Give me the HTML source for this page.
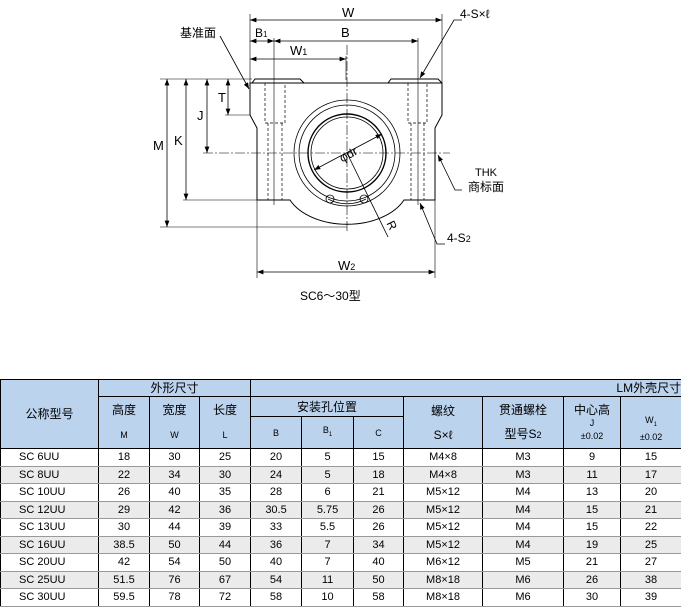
<!DOCTYPE html>
<html><head><meta charset="utf-8"><style>
body{margin:0;width:681px;height:606px;background:#fff;position:relative;overflow:hidden;font-family:"Liberation Sans","Noto Sans CJK SC",sans-serif}
svg{position:absolute;left:0;top:0}
table{position:absolute;left:0;top:379px;border-collapse:collapse;table-layout:fixed;width:681px;font-size:11px;font-family:"Liberation Sans","Noto Sans CJK SC",sans-serif}
td{border:1px solid #000;text-align:center;padding:0;line-height:12px;overflow:hidden;white-space:nowrap}
.h td{background:#bcd3ee}
tr.d td{height:16.5px;border-top:1px solid #999;border-bottom:1px solid #999}
tr.g td{background:#ebebeb}
td.l{text-align:left;padding-left:18px}
.s{font-size:9px}
</style></head><body>
<svg width="681" height="380" viewBox="0 0 681 380" font-family="Liberation Sans, Noto Sans CJK SC, sans-serif" font-size="12">
<defs><marker id="a" markerWidth="8" markerHeight="6" refX="8" refY="3" orient="auto-start-reverse"><path d="M0,0 L8,3 L0,6 z" fill="#000"/></marker></defs>
<g stroke="#000" stroke-width="0.8" fill="none">
<!-- body -->
<path d="M250,83 L250,115 L257,128 L257,200 L290,200 A62,40 0 0 0 404,200 L435,200 L435,128 L442,115 L442,83 Z" stroke-width="1"/>
<path d="M252,83 L255,79 L300,79 L304,83 M388,83 L391,79 L438,79 L442,83" stroke-width="1"/>
<circle cx="347" cy="153" r="53"/><circle cx="347" cy="153" r="48"/>
<circle cx="347" cy="153" r="39" stroke-width="1.4"/><circle cx="347" cy="153" r="36"/>
<path d="M328,199 A40,40 0 0 0 366,199"/>
<circle cx="330" cy="199" r="4"/><circle cx="364" cy="199" r="4"/>
<g stroke-dasharray="3,2" stroke-width="0.7">
<path d="M265,83 V123 H285 V83 M268,123 V200 M282,123 V200"/>
<path d="M408,83 V123 H427 V83 M411,123 V200 M424,123 V200"/>
</g>
<g stroke-dasharray="10,2,2,2" stroke-width="0.6">
<path d="M347,45 V232 M203,153 H450"/>
</g>
<path d="M274,38 V205 M418,38 V205" stroke-width="0.6"/>
<!-- extension lines -->
<path d="M250,14 V83 M442,14 V83 M346,56 V80 M160,79 H252 M160,227 H347 M183,200 H257 M225,115 H250 M257,200 V278 M435,200 V278" stroke-width="0.6"/>
<!-- dims -->
<path d="M250,20 H442" marker-start="url(#a)" marker-end="url(#a)"/>
<path d="M250,41 H274" marker-start="url(#a)" marker-end="url(#a)"/>
<path d="M274,41 H418" marker-start="url(#a)" marker-end="url(#a)"/>
<path d="M250,59 H346" marker-start="url(#a)" marker-end="url(#a)"/>
<path d="M167,79 V227" marker-start="url(#a)" marker-end="url(#a)"/>
<path d="M186,79 V200" marker-start="url(#a)" marker-end="url(#a)"/>
<path d="M207,79 V153" marker-start="url(#a)" marker-end="url(#a)"/>
<path d="M228,79 V115" marker-start="url(#a)" marker-end="url(#a)"/>
<path d="M257,272 H435" marker-start="url(#a)" marker-end="url(#a)"/>
<path d="M314,170 L382,134" marker-start="url(#a)" marker-end="url(#a)"/>
<path d="M347,153 L388,237"/>
<!-- leaders -->
<path d="M220,36 L249,89" marker-end="url(#a)"/>
<path d="M462,20 L454,20 L420,78" marker-end="url(#a)"/>
<path d="M462,190 L455,190 L438,155" marker-end="url(#a)"/>
<path d="M445,244 L437,244 L420,203" marker-end="url(#a)"/>
</g>
<g fill="#000">
<text x="342" y="17" font-size="13">W</text>
<text x="180" y="37">基准面</text>
<text x="255" y="37">B<tspan font-size="8">1</tspan></text>
<text x="341" y="37" font-size="13">B</text>
<text x="290" y="55" font-size="13">W<tspan font-size="9">1</tspan></text>
<text x="460" y="18">4-S×ℓ</text>
<text x="153" y="150" font-size="13">M</text>
<text x="174" y="145" font-size="13">K</text>
<text x="197" y="120" font-size="13">J</text>
<text x="218" y="102" font-size="13">T</text>
<text x="475" y="176" font-size="11">THK</text>
<text x="468" y="191">商标面</text>
<text x="447" y="242">4-S<tspan font-size="9">2</tspan></text>
<text x="338" y="270" font-size="13">W<tspan font-size="9">2</tspan></text>
<text x="338" y="160" transform="rotate(-28 345 153)" font-size="12">φdr</text>
<text x="387" y="230" transform="rotate(64 392 226)" font-size="12">R</text>
<text x="300" y="300" font-size="12">SC6～30型</text>
</g>
</svg>
<table>
<colgroup><col style="width:98px"><col style="width:51px"><col style="width:50px"><col style="width:51px"><col style="width:51px"><col style="width:52px"><col style="width:50px"><col style="width:79px"><col style="width:81px"><col style="width:57px"><col style="width:61px"></colgroup>
<tr class="h" style="height:17px"><td rowspan="3" style="font-size:12px">公称型号</td><td colspan="3" style="font-size:12px">外形尺寸</td><td colspan="7" style="text-align:right;font-size:12px">LM外壳尺寸</td></tr>
<tr class="h" style="height:20px"><td rowspan="2" style="font-size:12px">高度<br><br><span class="s">M</span></td><td rowspan="2" style="font-size:12px">宽度<br><br><span class="s">W</span></td><td rowspan="2" style="font-size:12px">长度<br><br><span class="s">L</span></td><td colspan="3" style="font-size:12px">安装孔位置</td><td rowspan="2" style="font-size:12px">螺纹<br><br>S×ℓ</td><td rowspan="2" style="font-size:12px">贯通螺栓<br><br>型号S<span class="s">2</span></td><td rowspan="2" style="font-size:12px;line-height:12px">中心高<br><span class="s">J<br>±0.02</span></td><td rowspan="2" class="s"><br>W<sub style="font-size:6px">1</sub><br>±0.02</td></tr>
<tr class="h" style="height:32px"><td class="s">B</td><td class="s">B<sub style="font-size:6px">1</sub></td><td class="s">C</td></tr>
<tr class="d"><td class="l">SC 6UU</td><td>18</td><td>30</td><td>25</td><td>20</td><td>5</td><td>15</td><td>M4×8</td><td>M3</td><td>9</td><td>15</td></tr>
<tr class="d g"><td class="l">SC 8UU</td><td>22</td><td>34</td><td>30</td><td>24</td><td>5</td><td>18</td><td>M4×8</td><td>M3</td><td>11</td><td>17</td></tr>
<tr class="d"><td class="l">SC 10UU</td><td>26</td><td>40</td><td>35</td><td>28</td><td>6</td><td>21</td><td>M5×12</td><td>M4</td><td>13</td><td>20</td></tr>
<tr class="d g"><td class="l">SC 12UU</td><td>29</td><td>42</td><td>36</td><td>30.5</td><td>5.75</td><td>26</td><td>M5×12</td><td>M4</td><td>15</td><td>21</td></tr>
<tr class="d"><td class="l">SC 13UU</td><td>30</td><td>44</td><td>39</td><td>33</td><td>5.5</td><td>26</td><td>M5×12</td><td>M4</td><td>15</td><td>22</td></tr>
<tr class="d g"><td class="l">SC 16UU</td><td>38.5</td><td>50</td><td>44</td><td>36</td><td>7</td><td>34</td><td>M5×12</td><td>M4</td><td>19</td><td>25</td></tr>
<tr class="d"><td class="l">SC 20UU</td><td>42</td><td>54</td><td>50</td><td>40</td><td>7</td><td>40</td><td>M6×12</td><td>M5</td><td>21</td><td>27</td></tr>
<tr class="d g"><td class="l">SC 25UU</td><td>51.5</td><td>76</td><td>67</td><td>54</td><td>11</td><td>50</td><td>M8×18</td><td>M6</td><td>26</td><td>38</td></tr>
<tr class="d"><td class="l">SC 30UU</td><td>59.5</td><td>78</td><td>72</td><td>58</td><td>10</td><td>58</td><td>M8×18</td><td>M6</td><td>30</td><td>39</td></tr>
</table>
</body></html>
